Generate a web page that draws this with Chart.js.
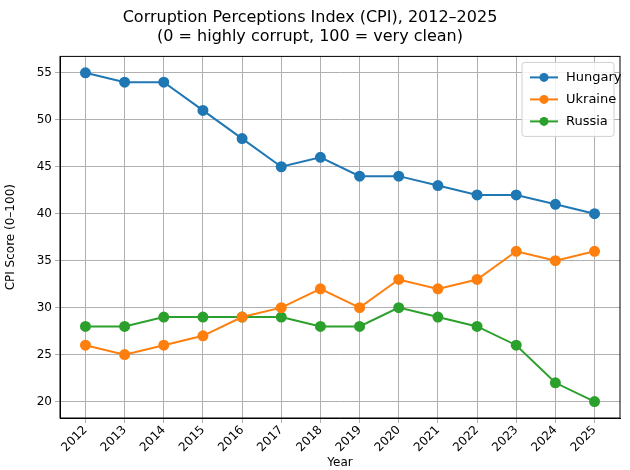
<!DOCTYPE html>
<html>
<head>
<meta charset="utf-8">
<script src="https://cdn.jsdelivr.net/npm/chart.js@4"></script>
<style>
  body { margin: 0; background: #fff; }
  #wrap { width: 630px; height: 470px; }
</style>
</head>
<body>
<div id="wrap"><canvas id="cpiChart"></canvas></div>
<script>
// Данные CPI
const years = [2012, 2013, 2014, 2015, 2016, 2017, 2018, 2019, 2020, 2021, 2022, 2023, 2024, 2025];
const hungary = [55, 54, 54, 51, 48, 45, 46, 44, 44, 43, 42, 42, 41, 40];
const ukraine = [26, 25, 26, 27, 29, 30, 32, 30, 33, 32, 33, 36, 35, 36];
const russia = [28, 28, 29, 29, 29, 29, 28, 28, 30, 29, 28, 26, 22, 20];
const yTicks = [20, 25, 30, 35, 40, 45, 50, 55];

const font = "'DejaVu Sans', sans-serif";

function series(label, values, color) {
    return {
        label: label,
        data: years.map((y, i) => ({ x: y, y: values[i] })),
        borderColor: color,
        backgroundColor: color,
        borderWidth: 2,
        pointRadius: 4.5,
        pointHoverRadius: 4.5,
        tension: 0
    };
}

// Рамка вокруг области графика + легенда внутри (как в matplotlib)
const innerLegend = {
    id: 'innerLegend',
    afterDraw(chart) {
        const ctx = chart.ctx;
        const area = chart.chartArea;
        ctx.save();
        ctx.strokeStyle = '#000';
        ctx.lineWidth = 1;
        ctx.strokeRect(area.left, area.top, area.right - area.left, area.bottom - area.top);

        const sets = chart.data.datasets;
        const rowH = 22, w = 92, h = sets.length * rowH + 8;
        const x = area.right - w - 6, y = area.top + 6;
        ctx.fillStyle = 'rgba(255,255,255,0.85)';
        ctx.strokeStyle = '#d0d0d0';
        ctx.beginPath();
        ctx.roundRect(x, y, w, h, 3);
        ctx.fill();
        ctx.stroke();
        ctx.font = '13px ' + font;
        ctx.textBaseline = 'middle';
        sets.forEach((ds, i) => {
            const cy = y + 15 + i * rowH;
            ctx.strokeStyle = ds.borderColor;
            ctx.lineWidth = 2;
            ctx.beginPath();
            ctx.moveTo(x + 8, cy);
            ctx.lineTo(x + 36, cy);
            ctx.stroke();
            ctx.fillStyle = ds.borderColor;
            ctx.beginPath();
            ctx.arc(x + 22, cy, 4.5, 0, Math.PI * 2);
            ctx.fill();
            ctx.fillStyle = '#000';
            ctx.fillText(ds.label, x + 44, cy);
        });
        ctx.restore();
    }
};

new Chart(document.getElementById('cpiChart'), {
    type: 'line',
    data: {
        datasets: [
            series('Hungary', hungary, '#1f77b4'),
            series('Ukraine', ukraine, '#ff7f0e'),
            series('Russia', russia, '#2ca02c')
        ]
    },
    options: {
        responsive: true,
        maintainAspectRatio: false,
        animation: false,
        layout: { padding: { left: 0, right: 10, top: 4, bottom: 0 } },
        plugins: {
            legend: { display: false },
            tooltip: { enabled: false },
            title: {
                display: true,
                text: ['Corruption Perceptions Index (CPI), 2012–2025', '(0 = highly corrupt, 100 = very clean)'],
                color: '#000',
                font: { family: font, size: 16, weight: 'normal' },
                padding: { top: 4, bottom: 10 }
            }
        },
        scales: {
            x: {
                type: 'linear',
                min: 2011.35,
                max: 2025.65,
                afterBuildTicks: axis => { axis.ticks = years.map(v => ({ value: v })); },
                afterFit: axis => { axis.height = 52; },
                ticks: {
                    color: '#000',
                    font: { family: font, size: 12 },
                    minRotation: 45,
                    maxRotation: 45,
                    padding: 0,
                    callback: v => String(v)
                },
                grid: { color: '#b0b0b0', tickLength: 5 },
                border: { color: '#000' },
                title: { display: true, text: 'Year', color: '#000', font: { family: font, size: 12 }, padding: 0 }
            },
            y: {
                min: 18.25,
                max: 56.75,
                afterBuildTicks: axis => { axis.ticks = yTicks.map(v => ({ value: v })); },
                afterFit: axis => { axis.width = 60; },
                ticks: { color: '#000', font: { family: font, size: 12 } },
                grid: { color: '#b0b0b0', tickLength: 5 },
                border: { color: '#000' },
                title: { display: true, text: 'CPI Score (0–100)', color: '#000', font: { family: font, size: 12 } }
            }
        }
    },
    plugins: [innerLegend]
});
</script>
</body>
</html>
